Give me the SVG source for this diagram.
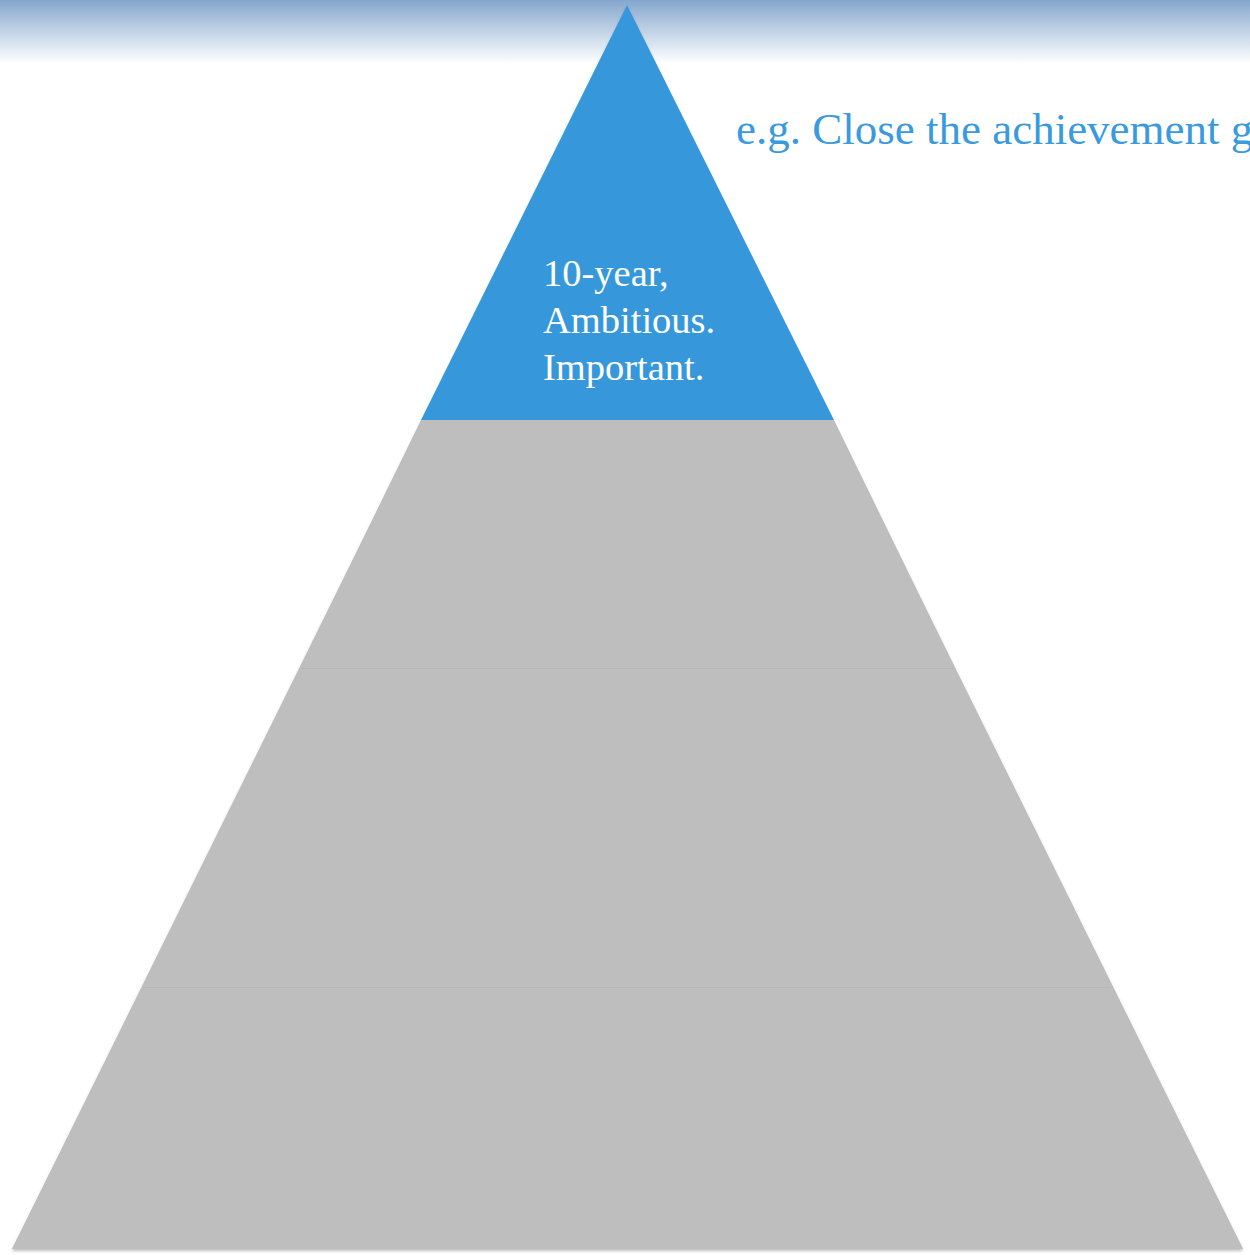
<svg xmlns="http://www.w3.org/2000/svg" width="1250" height="1255" viewBox="0 0 1250 1255">
  <defs>
    <linearGradient id="band" x1="0" y1="0" x2="0" y2="1">
      <stop offset="0" stop-color="#85a6ce"/>
      <stop offset="0.5" stop-color="#c3d4e8"/>
      <stop offset="1" stop-color="#ffffff"/>
    </linearGradient>
    <filter id="sh" x="-5%" y="-5%" width="110%" height="110%">
      <feDropShadow dx="0" dy="2" stdDeviation="1.5" flood-color="#000" flood-opacity="0.25"/>
    </filter>
    <style>
      .layer { fill: #bebebe; }
      .base { fill: #bebebe; filter: url(#sh); }
      .sep { stroke: #b6b6b6; stroke-width: 1; }
      .top { fill: #3698db; }
      .label { font-family: "Liberation Serif", "DejaVu Serif", serif; fill: #ffffff; font-size: 38.5px; }
      .note { font-family: "Liberation Serif", "DejaVu Serif", serif; fill: #3a9ade; font-size: 45px; }
    </style>
  </defs>
  <rect x="0" y="0" width="1250" height="64" fill="url(#band)"/>
  <polygon class="base" points="627,5 1243,1249 12,1249"/>
  <g id="layer4"><polygon class="layer" points="143,987 1112,987 1243,1249 12,1249"/></g>
  <g id="layer3"><polygon class="layer" points="300,668 955,668 1112,987 143,987"/></g>
  <g id="layer2"><polygon class="layer" points="421,420 834,420 955,668 300,668"/></g>
  <g id="layer1">
    <polygon class="top" points="627,5 834,420 421,420"/>
    <text class="label" x="543" y="286">10-year,</text>
    <text class="label" x="543" y="333">Ambitious.</text>
    <text class="label" x="543" y="380">Important.</text>
  </g>
  <line class="sep" x1="301" y1="668.5" x2="954" y2="668.5"/>
  <line class="sep" x1="144" y1="987.5" x2="1111" y2="987.5"/>
  <g id="note">
    <text class="note" x="736" y="144">e.g. Close the achievement gap</text>
  </g>
  <g id="connectors"/>
</svg>
